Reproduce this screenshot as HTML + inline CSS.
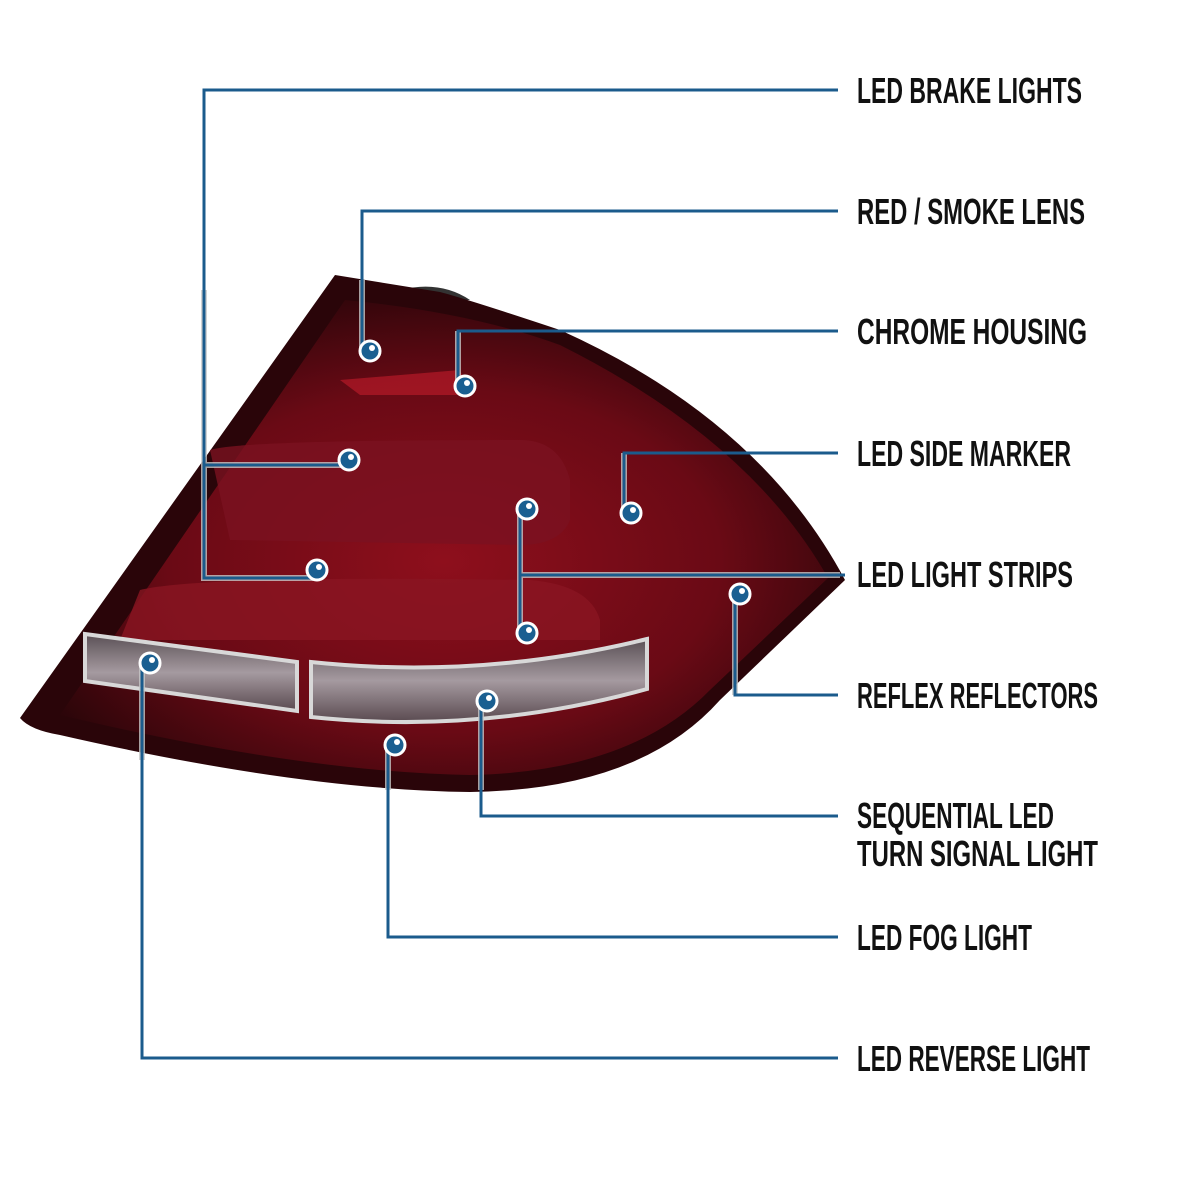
<!DOCTYPE html>
<html><head><meta charset="utf-8"><style>body{margin:0;background:#fff}svg{display:block}</style></head>
<body>
<svg width="1200" height="1200" viewBox="0 0 1200 1200" xmlns="http://www.w3.org/2000/svg">
<defs>
<radialGradient id="g" cx="0.5" cy="0.55" r="0.6">
<stop offset="0" stop-color="#8e0f1c"/><stop offset="0.6" stop-color="#6a0a15"/><stop offset="1" stop-color="#2a0509"/>
</radialGradient>
<linearGradient id="lens" x1="0" y1="0" x2="0" y2="1">
<stop offset="0" stop-color="#5a5055"/><stop offset="0.5" stop-color="#a59aa0"/><stop offset="1" stop-color="#5a4a50"/>
</linearGradient>
</defs>
<path d="M400,290 Q440,280 470,300 L440,300Z" fill="#333"/>
<path d="M335,275 L20,718 Q30,730 60,735 Q300,790 470,792 Q640,790 720,700 L845,580 Q760,420 560,330 Q470,300 440,292 L335,275 Z" fill="#2a0509"/>
<path d="M345,300 L60,715 Q300,772 470,775 Q630,772 710,690 L828,578 Q750,440 560,345 Q470,312 345,300 Z" fill="url(#g)"/>
<path d="M210,450 Q240,440 520,440 Q560,440 570,480 L570,520 Q560,545 520,545 L230,540 Z" fill="#7a1220" opacity="0.8"/>
<path d="M140,590 Q200,575 530,580 Q590,585 600,620 L600,640 L120,640 Z" fill="#8a1522" opacity="0.8"/>
<path d="M340,380 L460,370 L470,395 L360,395Z" fill="#b51a28" opacity="0.7"/>
<path d="M85,634 L297,662 L297,711 L85,681Z" fill="url(#lens)"/>
<path d="M311,662 Q480,680 647,639 L647,689 Q480,735 311,717Z" fill="url(#lens)"/>
<g fill="none" stroke="#d8d8d8" stroke-width="4">
<path d="M85,634 L297,662 L297,711 L85,681Z"/>
<path d="M311,662 Q480,680 647,639 L647,689 Q480,735 311,717Z"/>
</g>
<g fill="none">
<g stroke="#c8c8c8" stroke-width="6" opacity="0.8">
<path d="M204,290 V578 H317 M204,465 H349"/>
<path d="M362,280 V351"/><path d="M458,331 V386"/><path d="M624,453 V513"/>
<path d="M520,509 V633 M520,575 H840"/><path d="M735,594 V695"/>
<path d="M481,701 V790"/><path d="M388,745 V790"/><path d="M142,663 V760"/>
</g>
<g stroke="#1b5b8c" stroke-width="3">
<path d="M838,90 H204 V578 H317 M204,465 H349"/>
<path d="M838,211 H362 V351"/>
<path d="M838,331 H458 V386"/>
<path d="M838,453 H624 V513"/>
<path d="M520,509 V633 M520,575 H845"/>
<path d="M740,594 H735 V695 H838"/>
<path d="M487,701 H481 V816 H838"/>
<path d="M395,745 H388 V937 H838"/>
<path d="M150,663 H142 V1058 H838"/>
</g>
</g>
<g stroke="#fff" stroke-width="3" fill="#1a5f91">
<circle cx="370" cy="351" r="10"/><circle cx="465" cy="386" r="10"/>
<circle cx="349" cy="460" r="10"/><circle cx="317" cy="570" r="10"/>
<circle cx="527" cy="509" r="10"/><circle cx="527" cy="633" r="10"/>
<circle cx="631" cy="513" r="10"/><circle cx="740" cy="594" r="10"/>
<circle cx="150" cy="663" r="10"/><circle cx="487" cy="701" r="10"/>
<circle cx="395" cy="745" r="10"/>
</g>
<g fill="#fff">
<circle cx="372" cy="348" r="3"/><circle cx="467" cy="383" r="3"/>
<circle cx="351" cy="457" r="3"/><circle cx="319" cy="567" r="3"/>
<circle cx="529" cy="506" r="3"/><circle cx="529" cy="630" r="3"/>
<circle cx="633" cy="510" r="3"/><circle cx="742" cy="591" r="3"/>
<circle cx="152" cy="660" r="3"/><circle cx="489" cy="698" r="3"/>
<circle cx="397" cy="742" r="3"/>
</g>
<g font-family="Liberation Sans, sans-serif" font-size="36" font-weight="bold" fill="#111">
<text x="857" y="103" textLength="225" lengthAdjust="spacingAndGlyphs">LED BRAKE LIGHTS</text>
<text x="857" y="224" textLength="228" lengthAdjust="spacingAndGlyphs">RED / SMOKE LENS</text>
<text x="857" y="344" textLength="230" lengthAdjust="spacingAndGlyphs">CHROME HOUSING</text>
<text x="857" y="466" textLength="214" lengthAdjust="spacingAndGlyphs">LED SIDE MARKER</text>
<text x="857" y="587" textLength="216" lengthAdjust="spacingAndGlyphs">LED LIGHT STRIPS</text>
<text x="857" y="708" textLength="241" lengthAdjust="spacingAndGlyphs">REFLEX REFLECTORS</text>
<text x="857" y="828" textLength="197" lengthAdjust="spacingAndGlyphs">SEQUENTIAL LED</text>
<text x="857" y="866" textLength="241" lengthAdjust="spacingAndGlyphs">TURN SIGNAL LIGHT</text>
<text x="857" y="950" textLength="175" lengthAdjust="spacingAndGlyphs">LED FOG LIGHT</text>
<text x="857" y="1071" textLength="233" lengthAdjust="spacingAndGlyphs">LED REVERSE LIGHT</text>
</g>
</svg>
</body></html>
